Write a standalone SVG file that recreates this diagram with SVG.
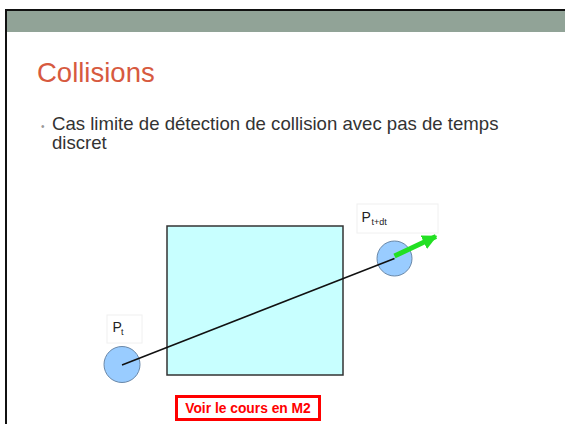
<svg xmlns="http://www.w3.org/2000/svg" width="565" height="424" viewBox="0 0 565 424">
<style>
.lbl{font-family:"Liberation Sans",Arial,sans-serif;fill:#222;}
.ball{fill:#99ccff;stroke:#6a88a8;stroke-width:1;}
.lblbox{fill:#fff;stroke:#f0f0f0;stroke-width:1;}
</style>
<defs>
<marker id="ga" viewBox="0 0 10 10" refX="9" refY="5" markerWidth="3" markerHeight="3" orient="auto" markerUnits="strokeWidth">
<path d="M0,0 L10,5 L0,10 z" fill="#22e022"/>
</marker>
</defs>
<rect x="0" y="0" width="565" height="424" fill="#fff"/>
<rect x="6" y="10" width="559" height="22" fill="#91a397"/>
<path d="M6,424 V10 H565" fill="none" stroke="#111" stroke-width="2"/>
<text x="37" y="82" font-family="'Liberation Sans',Arial,sans-serif" font-size="27.5" fill="#d75a3f">Collisions</text>
<text x="41" y="130" font-family="'Liberation Sans',Arial,sans-serif" font-size="10" fill="#999">•</text>
<text x="52" y="130" font-family="'Liberation Sans',Arial,sans-serif" font-size="18.6" fill="#333">Cas limite de détection de collision avec pas de temps</text>
<text x="52" y="149" font-family="'Liberation Sans',Arial,sans-serif" font-size="18.6" fill="#333">discret</text>
<g id="box">
<rect x="167" y="226" width="176" height="149" fill="#c8ffff" stroke="#333" stroke-width="1.5"/>
</g>
<g id="pt">
<rect class="lblbox" x="107" y="315" width="35" height="28"/>
<circle class="ball" cx="122" cy="364.5" r="18"/>
<text class="lbl" x="112.5" y="331.5" font-size="14">P</text>
<text class="lbl" x="121" y="334.5" font-size="9">t</text>
</g>
<g id="ptdt">
<rect class="lblbox" x="357" y="204" width="81" height="29"/>
<circle class="ball" cx="394.5" cy="258.5" r="17.5"/>
<text class="lbl" x="361.5" y="221.5" font-size="14">P</text>
<text class="lbl" x="371.5" y="224.5" font-size="9">t+dt</text>
</g>
<g id="connectors">
<line x1="122" y1="365" x2="394.5" y2="258.5" stroke="#111" stroke-width="1.5"/>
<line x1="394.5" y1="256" x2="436" y2="236.5" stroke="#22e022" stroke-width="5" marker-end="url(#ga)"/>
</g>
<g id="note">
<rect x="176.5" y="396.5" width="143" height="23" fill="#fff" stroke="#ff0000" stroke-width="3"/>
<text x="248" y="413" text-anchor="middle" font-family="'Liberation Sans',Arial,sans-serif" font-size="13.8" font-weight="bold" fill="#ff0000">Voir le cours en M2</text>
</g>
</svg>
